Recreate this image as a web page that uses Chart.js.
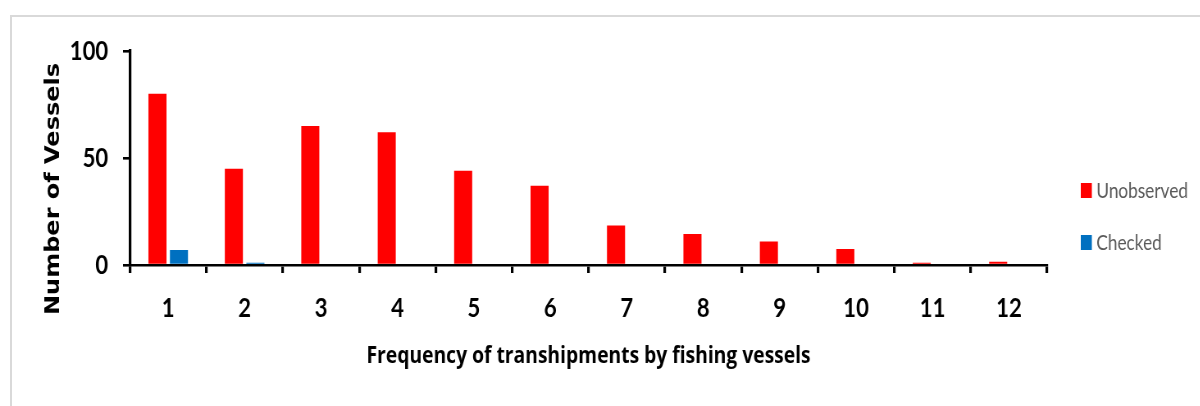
<!DOCTYPE html>
<html><head><meta charset="utf-8">
<script src="https://cdn.jsdelivr.net/npm/chart.js@4"></script>
<style>
html,body{margin:0;padding:0;background:#fff;width:1200px;height:406px;overflow:hidden;}
#frame{position:absolute;left:10px;top:15px;width:1300px;height:500px;border-top:2px solid #d9d9d9;border-left:2px solid #d9d9d9;}
#c{position:absolute;left:0;top:0;width:1463px;height:406px;transform:scaleX(0.82);transform-origin:0 0;}
</style></head><body>
<div id="frame"></div>
<canvas id="c" width="1463" height="406"></canvas>
<script>
const categories = ['1','2','3','4','5','6','7','8','9','10','11','12'];
const unobserved = [80, 45, 65, 62, 44, 37, 18.5, 14.5, 11, 7.5, 1, 1.5];
const checked    = [7, 1, 0, 0, 0, 0, 0, 0, 0, 0, 0, 0];
const seriesNames = ['Unobserved', 'Checked'];
const seriesColors = ['#ff0000', '#0070c0'];
const yMin = 0, yMax = 100, yStep = 50;
const xTitle = 'Frequency of transhipments by fishing vessels';
const yTitle = 'Number of Vessels';

const FONT = "Lato, 'Open Sans', sans-serif";
const TITLE_FONT = "'Open Sans', Lato, sans-serif";

const customText = {
  id: 'customText',
  afterDraw(chart) {
    const ctx = chart.ctx;
    // y axis title
    ctx.save();
    ctx.translate(66, 189);
    ctx.rotate(-Math.PI / 2);
    ctx.font = "bold 24px 'DejaVu Sans', sans-serif";
    ctx.fillStyle = '#000';
    ctx.textAlign = 'center';
    ctx.textBaseline = 'middle';
    ctx.fillText(yTitle, 0, 0);
    ctx.restore();
    // legend
    ctx.save();
    chart.data.datasets.forEach((ds, i) => {
      const y = 183 + i * 52;
      ctx.fillStyle = ds.backgroundColor;
      ctx.fillRect(1318, y, 13.5, 15);
      ctx.fillStyle = '#595959';
      ctx.font = '21px ' + FONT;
      ctx.textAlign = 'left';
      ctx.textBaseline = 'middle';
      ctx.fillText(ds.label, 1337, y + 8);
    });
    ctx.restore();
  }
};

new Chart(document.getElementById('c'), {
  type: 'bar',
  data: {
    labels: categories,
    datasets: [
      { label: seriesNames[0], data: unobserved, backgroundColor: seriesColors[0] },
      { label: seriesNames[1], data: checked, backgroundColor: seriesColors[1] }
    ]
  },
  options: {
    responsive: false,
    animation: false,
    devicePixelRatio: 1,
    categoryPercentage: 0.563,
    barPercentage: 0.84,
    layout: { padding: { left: 0, top: 51, right: 186, bottom: 0 } },
    plugins: { legend: { display: false }, tooltip: { enabled: false } },
    scales: {
      x: {
        afterFit(s) { s.height = 141; },
        grid: { offset: true, drawOnChartArea: false, drawTicks: true, tickLength: 8, color: '#000', lineWidth: 3.2 },
        border: { display: true, color: '#000', width: 2.6 },
        ticks: { color: '#000', font: { family: FONT, size: 27, weight: 'bold' }, padding: 19, maxRotation: 0 },
        title: { display: true, text: xTitle, color: '#000', font: { family: TITLE_FONT, size: 23.5, weight: 'bold' }, padding: { top: 0, bottom: 36 } }
      },
      y: {
        min: yMin, max: yMax,
        afterFit(s) { s.width = 158.5; },
        grid: { drawOnChartArea: false, drawTicks: true, tickLength: 8.5, color: '#000', lineWidth: 2.6 },
        border: { display: true, color: '#000', width: 3.2 },
        ticks: { stepSize: yStep, color: '#000', font: { family: FONT, size: 27, weight: 'bold' }, padding: 18 }
      }
    }
  },
  plugins: [customText]
});
</script>
</body></html>
